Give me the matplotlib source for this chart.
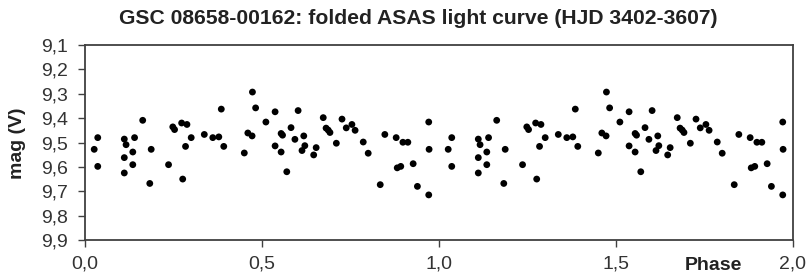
import matplotlib
matplotlib.use("Agg")
import matplotlib.pyplot as plt
from matplotlib.ticker import FuncFormatter, MultipleLocator
import numpy as np

plt.rcParams['font.family'] = ['Liberation Sans', 'DejaVu Sans']

title = "GSC 08658-00162: folded ASAS light curve (HJD 3402-3607)"
x_label = "Phase"
y_label = "mag (V)"

phase = [0.026, 0.036, 0.036, 0.111, 0.116, 0.140, 0.135, 0.111, 0.135, 0.111,
         0.163, 0.187, 0.183, 0.236, 0.248, 0.253, 0.273, 0.288, 0.300, 0.284,
         0.276, 0.337, 0.361, 0.378, 0.385, 0.392, 0.450, 0.460, 0.472, 0.473,
         0.482, 0.511, 0.537, 0.602, 0.554, 0.558, 0.582, 0.537, 0.554, 0.593,
         0.618, 0.621, 0.613, 0.653, 0.646, 0.570, 0.673, 0.681, 0.687, 0.692,
         0.710, 0.726, 0.738, 0.754, 0.763, 0.786, 0.800, 0.847, 0.879, 0.898,
         0.912, 0.834, 0.882, 0.892, 0.927, 0.939, 0.971, 0.972, 0.971]
mag = [9.528, 9.480, 9.598, 9.486, 9.509, 9.480, 9.539, 9.562, 9.591, 9.625,
       9.409, 9.528, 9.668, 9.591, 9.436, 9.447, 9.420, 9.426, 9.480, 9.516,
       9.650, 9.467, 9.480, 9.477, 9.363, 9.516, 9.543, 9.461, 9.473, 9.293,
       9.358, 9.416, 9.374, 9.369, 9.463, 9.470, 9.439, 9.514, 9.539, 9.487,
       9.473, 9.513, 9.533, 9.521, 9.551, 9.620, 9.398, 9.441, 9.449, 9.459,
       9.503, 9.404, 9.440, 9.426, 9.450, 9.498, 9.544, 9.467, 9.480, 9.499,
       9.499, 9.673, 9.604, 9.598, 9.587, 9.680, 9.416, 9.528, 9.715]

ph = np.array(phase)
mg = np.array(mag)
ph_all = np.concatenate([ph, ph + 1.0])
mg_all = np.concatenate([mg, mg])

fig = plt.figure(figsize=(8.08, 2.77), dpi=100)
ax = fig.add_axes([85/808, 1 - 240/277, (793-85)/808, (240-45)/277])

ax.scatter(ph_all, mg_all, s=24, c='black', edgecolors='none', zorder=3)

ax.set_xlim(0, 2)
ax.set_ylim(9.9, 9.1)
ax.xaxis.set_major_locator(MultipleLocator(0.5))
ax.yaxis.set_major_locator(MultipleLocator(0.1))
comma = FuncFormatter(lambda v, p: f"{v:.1f}".replace('.', ','))
ax.xaxis.set_major_formatter(comma)
ax.yaxis.set_major_formatter(comma)

for s in ax.spines.values():
    s.set_color('#404040')
    s.set_linewidth(1.3)
ax.tick_params(direction='out', length=5, width=1.0, color='#404040',
               labelsize=14, labelcolor='#333333')
ax.tick_params(axis='y', pad=7)
ax.tick_params(axis='x', pad=6)

fig.text(418/808, 1 - 18/277, title, fontsize=15.2, fontweight='bold',
         color='#222222', ha='center', va='center')
fig.text(18/808, 1 - 143/277, y_label, fontsize=14, fontweight='bold',
         color='#222222', ha='center', va='center', rotation=90)
fig.text(713/808, 1 - 265/277, x_label, fontsize=14, fontweight='bold',
         color='#222222', ha='center', va='center')

fig.savefig("out.png", dpi=100)
